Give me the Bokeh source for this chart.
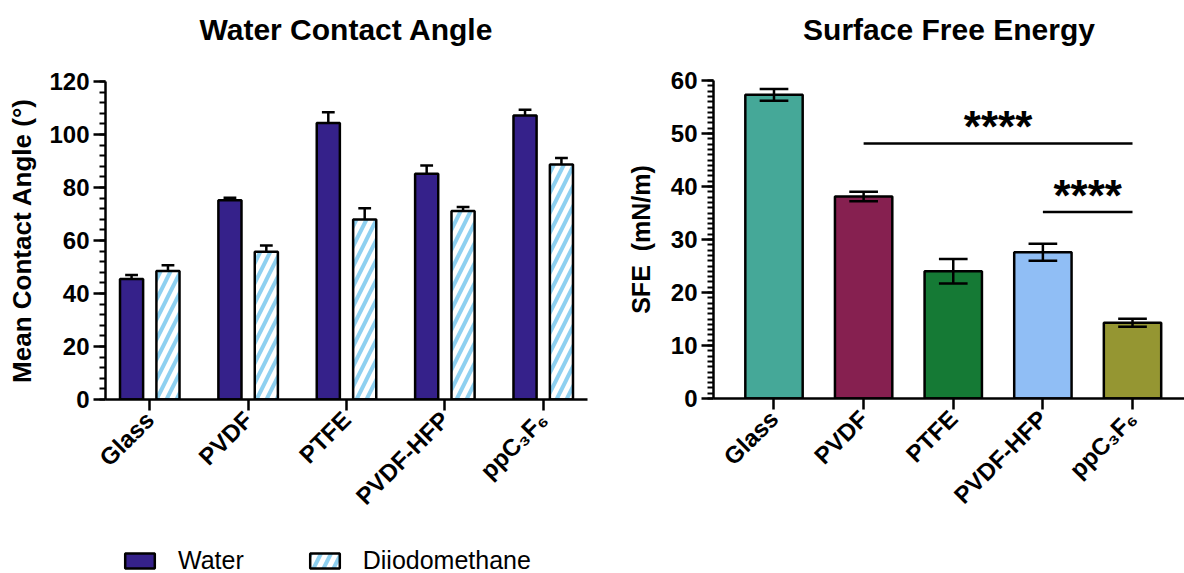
import math
from bokeh.plotting import figure
from bokeh.layouts import row, column
from bokeh.models import (Range1d, FixedTicker, SingleIntervalTicker, Legend, LegendItem,
                          ColumnDataSource)
from bokeh.core.properties import value
from bokeh.embed import file_html
from bokeh.resources import INLINE

# ---------------- data ----------------
title_left = "Water Contact Angle"
title_right = "Surface Free Energy"
materials = ["Glass", "PVDF", "PTFE", "PVDF-HFP", "ppC\u2083F\u2086"]
water = [45.5, 75.2, 104.3, 85.2, 107.2]
water_err = [1.5, 0.9, 4.1, 3.1, 2.1]
diiodo = [48.5, 55.8, 67.9, 71.1, 88.7]
diiodo_err = [2.2, 2.3, 4.3, 1.5, 2.4]
sfe = [57.3, 38.1, 24.0, 27.6, 14.3]
sfe_err = [1.1, 0.9, 2.3, 1.6, 0.75]
sfe_colors = ["#45A898", "#862050", "#157A35", "#90BEF5", "#959632"]
sig_from = [1, 3]
sig_to = [4, 4]
sig_line_y = [48.1, 35.2]
sig_text_y = [52.0, 39.1]
sig_labels = ["****", "****"]

FONT = "Liberation Sans"
WATER_COLOR = "#35218A"
HATCH_COLOR = "#8ED0F0"
idx = list(range(len(materials)))


def style_axes(p, y_interval, n_minor):
    p.outline_line_color = None
    p.xgrid.grid_line_color = None
    p.ygrid.grid_line_color = None
    p.background_fill_color = "white"
    p.border_fill_color = "white"
    # x axis
    xa = p.xaxis[0]
    xa.ticker = FixedTicker(ticks=idx)
    xa.major_label_overrides = {i: m for i, m in zip(idx, materials)}
    xa.major_label_orientation = math.pi / 4
    xa.major_label_text_font = FONT
    xa.major_label_text_font_style = "bold"
    xa.major_label_text_font_size = "24px"
    xa.major_label_text_color = "black"
    xa.axis_line_width = 2.5
    xa.axis_line_color = "black"
    xa.major_tick_line_width = 2.5
    xa.major_tick_out = 11
    xa.major_tick_in = 0
    xa.minor_tick_line_color = None
    xa.major_label_standoff = 5
    # y axis
    ya = p.yaxis[0]
    ya.ticker = SingleIntervalTicker(interval=y_interval, num_minor_ticks=n_minor)
    ya.major_label_text_font = FONT
    ya.major_label_text_font_style = "bold"
    ya.major_label_text_font_size = "24px"
    ya.major_label_text_color = "black"
    ya.axis_line_width = 2.5
    ya.axis_line_color = "black"
    ya.major_tick_line_width = 2.5
    ya.major_tick_out = 12
    ya.major_tick_in = 0
    ya.minor_tick_line_width = 2
    ya.minor_tick_out = 6
    ya.minor_tick_in = 0
    ya.major_label_standoff = 4
    ya.axis_label_text_font = FONT
    ya.axis_label_text_font_style = "bold"
    ya.axis_label_text_font_size = "26px"
    ya.axis_label_text_color = "black"


def blank_strip(width, height):
    s = figure(width=width, height=height, output_backend="svg", toolbar_location=None,
               x_range=Range1d(0, 1), y_range=Range1d(0, 1),
               x_axis_type=None, y_axis_type=None, min_border=0)
    s.outline_line_color = None
    s.xgrid.grid_line_color = None
    s.ygrid.grid_line_color = None
    return s


def title_strip(width, text):
    s = blank_strip(width, 60)
    s.text(x=[0.5], y=[0.52], text=[text], text_font=value(FONT), text_font_style="bold",
           text_font_size="30px", text_align="center", text_baseline="middle",
           text_color="black")
    return s


# ---------------- left chart ----------------
t1 = title_strip(600, title_left)
p1 = figure(width=600, height=470, output_backend="svg", toolbar_location=None,
            x_range=Range1d(-0.45, 4.45), y_range=Range1d(0, 120),
            min_border_left=105, min_border_right=13, min_border_top=21, min_border_bottom=131)
style_axes(p1, 20, 5)
p1.yaxis.axis_label = "Mean Contact Angle (\u00b0)"
p1.yaxis.axis_label_standoff = 9

off = 0.185
bw = 0.235
cap = 0.065
xw = [i - off for i in idx]
xd = [i + off for i in idx]
src_w = ColumnDataSource(dict(x=xw, top=water, hi=[a + b for a, b in zip(water, water_err)],
                              c0=[v - cap for v in xw], c1=[v + cap for v in xw]))
src_d = ColumnDataSource(dict(x=xd, top=diiodo, hi=[a + b for a, b in zip(diiodo, diiodo_err)],
                              c0=[v - cap for v in xd], c1=[v + cap for v in xd]))
for src in (src_w, src_d):
    p1.segment(x0="x", y0="top", x1="x", y1="hi", source=src, line_color="black", line_width=2.5)
    p1.segment(x0="c0", y0="hi", x1="c1", y1="hi", source=src, line_color="black", line_width=2.5)
water_style = dict(fill_color=WATER_COLOR, line_color="black", line_width=2.5)
diiodo_style = dict(fill_color="white", hatch_pattern="/", hatch_color=HATCH_COLOR,
                    hatch_weight=4, hatch_scale=20, line_color="black", line_width=2.5)
p1.vbar(x="x", top="top", width=bw, bottom=0, source=src_w, **water_style)
p1.vbar(x="x", top="top", width=bw, bottom=0, source=src_d, **diiodo_style)

# ---------------- legend strip under the left chart ----------------
pl = blank_strip(600, 43)
lw = pl.vbar(x="x", top="top", width=bw, bottom=0, source=src_w, visible=False, **water_style)
ld = pl.vbar(x="x", top="top", width=bw, bottom=0, source=src_d, visible=False, **diiodo_style)
legend = Legend(items=[LegendItem(label="Water", renderers=[lw]),
                       LegendItem(label="Diiodomethane", renderers=[ld])],
                orientation="horizontal", location=(16, -2),
                padding=0, margin=0, spacing=62, label_standoff=20,
                glyph_width=37, glyph_height=19, inactive_fill_alpha=0,
                label_text_font=FONT, label_text_font_size="25px", label_text_color="black",
                border_line_color=None, background_fill_alpha=0)
pl.add_layout(legend, "center")

# ---------------- right chart ----------------
t2 = title_strip(584, title_right)
p2 = figure(width=584, height=513, output_backend="svg", toolbar_location=None,
            x_range=Range1d(-0.675, 4.58), y_range=Range1d(0, 60),
            min_border_left=113, min_border_right=0, min_border_top=20, min_border_bottom=175)
style_axes(p2, 10, 10)
p2.yaxis.axis_label = "SFE\u00a0\u00a0(mN/m)"
p2.yaxis.axis_label_standoff = 13
p2.yaxis.axis_label_text_font_size = "25px"

cap2 = 0.16
src_s = ColumnDataSource(dict(x=idx, top=sfe, color=sfe_colors,
                              lo=[a - b for a, b in zip(sfe, sfe_err)],
                              hi=[a + b for a, b in zip(sfe, sfe_err)],
                              c0=[v - cap2 for v in idx], c1=[v + cap2 for v in idx]))
p2.vbar(x="x", top="top", width=0.64, bottom=0, source=src_s, fill_color="color",
        line_color="black", line_width=2.5)
p2.segment(x0="x", y0="lo", x1="x", y1="hi", source=src_s, line_color="black", line_width=2.5)
p2.segment(x0="c0", y0="hi", x1="c1", y1="hi", source=src_s, line_color="black", line_width=2.5)
p2.segment(x0="c0", y0="lo", x1="c1", y1="lo", source=src_s, line_color="black", line_width=2.5)

src_sig = ColumnDataSource(dict(x0=sig_from, x1=sig_to, y=sig_line_y, ty=sig_text_y,
                                tx=[(a + b) / 2 for a, b in zip(sig_from, sig_to)], t=sig_labels))
p2.segment(x0="x0", y0="y", x1="x1", y1="y", source=src_sig, line_color="black", line_width=2.5)
p2.text(x="tx", y="ty", text="t", source=src_sig, text_font=value(FONT), text_font_style="bold",
        text_font_size="44px", text_align="center", text_baseline="alphabetic", y_offset=4,
        text_color="black")

layout = row(column(t1, p1, pl, spacing=0), column(t2, p2, spacing=0), spacing=0)
open("out.html", "w").write(file_html(layout, INLINE))
